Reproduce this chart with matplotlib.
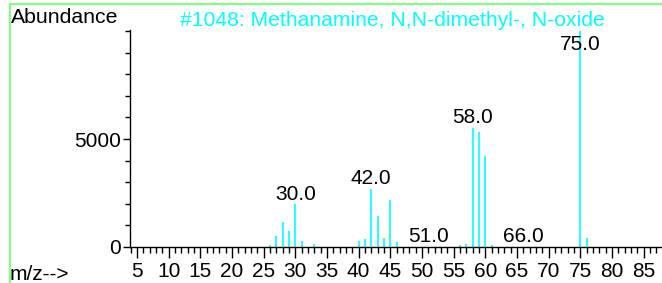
import matplotlib
matplotlib.use("Agg")
import matplotlib.pyplot as plt
from matplotlib.ticker import MultipleLocator
from matplotlib.lines import Line2D

# Spectre de masse #1048
mz = [26, 27, 28, 29, 30, 31, 33, 40, 41, 42, 43, 44, 45, 46,
      51, 56, 57, 58, 59, 60, 61, 66, 75, 76]
abundance = [100, 510, 1160, 720, 1970, 280, 160, 290, 350, 2690, 1450, 430, 2160, 230,
             10, 110, 160, 5510, 5330, 4230, 90, 10, 9999, 400]
labelled = [30, 42, 51, 58, 66, 75]
x_ticks = list(range(5, 90, 5))
y_ticks = [0, 5000]

title = "#1048: Methanamine, N,N-dimethyl-, N-oxide"

plt.rcParams['font.family'] = ['Liberation Sans', 'DejaVu Sans']

fig = plt.figure(figsize=(6.62, 2.83), dpi=100)
fig.patch.set_facecolor('white')
ax = fig.add_axes([130 / 662, 36 / 283, 532 / 662, 217 / 283])

ax.vlines(mz, 0, abundance, color='#00ffff', linewidth=1.2)

# étiquettes des pics (plafonnées sous le haut de l'axe)
for m, a in zip(mz, abundance):
    if m in labelled:
        ax.annotate(f"{m:.1f}", (m, min(a, 8880)), xytext=(0, 3.5), textcoords='offset points',
                    ha='center', va='baseline', fontsize=15, color='black')

ax.set_xlim(3.9, 87.9)
ax.set_ylim(0, 10050)

for s in ['top', 'right']:
    ax.spines[s].set_visible(False)
ax.spines['left'].set_linewidth(1)
ax.spines['bottom'].set_linewidth(1)

ax.set_xticks(x_ticks)
ax.xaxis.set_minor_locator(MultipleLocator(1))
ax.set_yticks(y_ticks)
ax.yaxis.set_minor_locator(MultipleLocator(1000))
ax.tick_params(axis='x', which='major', length=8, width=1, labelsize=15, pad=2.5)
ax.tick_params(axis='x', which='minor', length=4.5, width=1)
ax.tick_params(axis='y', which='major', length=5, width=1, labelsize=15, pad=1.5)
ax.tick_params(axis='y', which='minor', length=3.3, width=1)

fig.text(11 / 662, 1 - 17.5 / 283, "Abundance", fontsize=15.3, ha='left', va='center')
fig.text(10 / 662, 1 - 274 / 283, "m/z-->", fontsize=15, ha='left', va='center')
fig.text(392 / 662, 1 - 20 / 283, title, fontsize=15.2, color='#00ffff', ha='center', va='center')

# cadre vert
fig.add_artist(Line2D([9.5 / 662, 1], [1 - 3.5 / 283] * 2, color='#80ff80', linewidth=1.5))
fig.add_artist(Line2D([9.5 / 662] * 2, [0, 1 - 3.5 / 283], color='#80ff80', linewidth=1.5))

fig.savefig('out.png', dpi=100)
